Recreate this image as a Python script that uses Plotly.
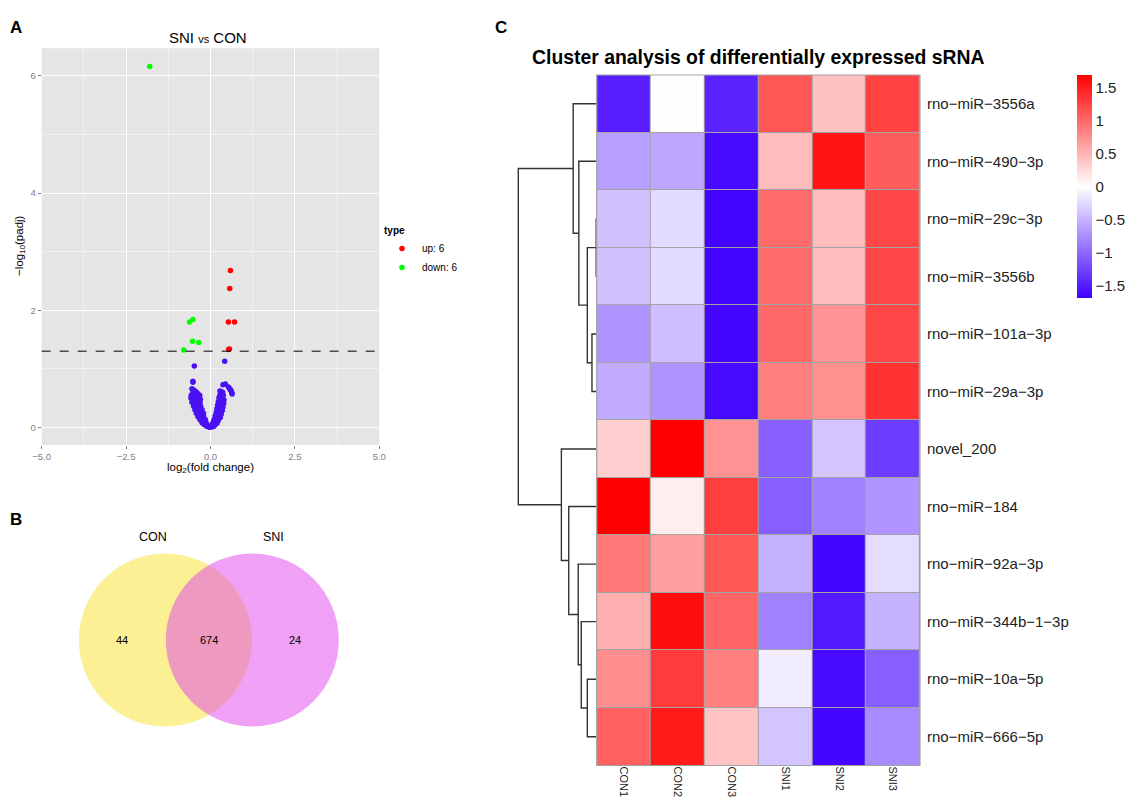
import math
import plotly.graph_objects as go

W, H = 1138, 802
OFF = 8  # page body margin of the browser
FONT = "Liberation Sans, Arial, sans-serif"

# ---------------- Panel A : volcano data ----------------
up_x = [0.59, 0.57, 0.53, 0.71, 0.54, 0.56]
up_y = [2.68, 2.37, 1.80, 1.80, 1.33, 1.34]
down_x = [-1.80, -0.52, -0.62, -0.53, -0.35, -0.79]
down_y = [6.16, 1.84, 1.80, 1.47, 1.45, 1.32]
ns_x = [-0.48, 0.42, -0.52, -0.52, 0.37, 0.44, 0.53, 0.57, 0.61, 0.63, 0.64, 0.59,
        -0.55, -0.50, -0.46, -0.42, -0.38, -0.52, -0.48, -0.44, -0.57, -0.53, -0.49, -0.45, -0.41, -0.36, -0.32,
        -0.58, -0.54, -0.50, -0.46, -0.42, -0.38, -0.34, -0.30,
        -0.55, -0.51, -0.47, -0.43, -0.39, -0.35, -0.31,
        -0.50, -0.46, -0.42, -0.38, -0.34, -0.29,
        -0.46, -0.42, -0.38, -0.34, -0.30, -0.25,
        -0.42, -0.38, -0.34, -0.30, -0.26, -0.21,
        -0.37, -0.33, -0.29, -0.25, -0.20,
        -0.31, -0.27, -0.23, -0.19, -0.15,
        -0.25, -0.21, -0.17, -0.13,
        -0.18, -0.14, -0.10, -0.07,
        -0.11, -0.08, -0.05, -0.03, -0.01,
        0.28, 0.32, 0.36, 0.30, 0.34, 0.38, 0.27,
        0.25, 0.29, 0.33, 0.37, 0.40,
        0.23, 0.27, 0.31, 0.35, 0.39,
        0.21, 0.25, 0.29, 0.33, 0.37,
        0.19, 0.23, 0.27, 0.31, 0.35,
        0.17, 0.21, 0.25, 0.29, 0.32,
        0.14, 0.18, 0.22, 0.26, 0.29,
        0.11, 0.15, 0.19, 0.23,
        0.08, 0.12, 0.16, 0.19,
        0.05, 0.09, 0.13,
        0.03, 0.06, 0.09, 0.01]
ns_y = [1.05, 1.13, 0.79, 0.77, 0.73, 0.74, 0.69, 0.66, 0.63, 0.59, 0.57, 0.64,
        0.66, 0.64, 0.62, 0.60, 0.58, 0.60, 0.58, 0.56, 0.55, 0.54, 0.52, 0.51, 0.52, 0.53, 0.55,
        0.50, 0.48, 0.47, 0.46, 0.45, 0.46, 0.47, 0.48,
        0.43, 0.41, 0.40, 0.39, 0.40, 0.41, 0.42,
        0.36, 0.34, 0.33, 0.34, 0.35, 0.36,
        0.30, 0.28, 0.27, 0.28, 0.29, 0.30,
        0.24, 0.22, 0.21, 0.22, 0.23, 0.24,
        0.18, 0.17, 0.16, 0.17, 0.18,
        0.13, 0.12, 0.11, 0.12, 0.13,
        0.08, 0.07, 0.07, 0.08,
        0.045, 0.04, 0.035, 0.03,
        0.02, 0.015, 0.01, 0.006, 0.002,
        0.62, 0.61, 0.60, 0.57, 0.56, 0.55, 0.54,
        0.50, 0.50, 0.49, 0.48, 0.47,
        0.44, 0.43, 0.43, 0.42, 0.41,
        0.38, 0.37, 0.37, 0.36, 0.35,
        0.32, 0.31, 0.31, 0.30, 0.29,
        0.26, 0.25, 0.25, 0.24, 0.23,
        0.20, 0.19, 0.19, 0.18, 0.17,
        0.14, 0.13, 0.13, 0.12,
        0.09, 0.08, 0.08, 0.07,
        0.05, 0.045, 0.04,
        0.02, 0.02, 0.015, 0.005]
padj_cut = 0.05
x_ticks = [-5.0, -2.5, 0.0, 2.5, 5.0]
y_ticks = [0, 2, 4, 6]

# ---------------- Panel B : Venn data ----------------
venn_sets = ["CON", "SNI"]
venn_counts = [44, 674, 24]  # CON only, both, SNI only

# ---------------- Panel C : heatmap data ----------------
samples = ["CON1", "CON2", "CON3", "SNI1", "SNI2", "SNI3"]
mirnas = ["rno-miR-3556a", "rno-miR-490-3p", "rno-miR-29c-3p", "rno-miR-3556b",
          "rno-miR-101a-3p", "rno-miR-29a-3p", "novel_200", "rno-miR-184",
          "rno-miR-92a-3p", "rno-miR-344b-1-3p", "rno-miR-10a-5p", "rno-miR-666-5p"]
zscore = [
    [-1.48, 0.00, -1.45, 1.12, 0.42, 1.25],
    [-0.63, -0.58, -1.62, 0.45, 1.55, 1.08],
    [-0.40, -0.24, -1.66, 0.98, 0.44, 1.22],
    [-0.40, -0.24, -1.66, 0.98, 0.44, 1.22],
    [-0.70, -0.43, -1.64, 1.00, 0.72, 1.22],
    [-0.55, -0.70, -1.62, 0.86, 0.74, 1.35],
    [0.33, 1.69, 0.72, -1.05, -0.38, -1.28],
    [1.69, 0.12, 1.28, -1.05, -0.83, -0.70],
    [0.90, 0.64, 1.12, -0.50, -1.64, -0.22],
    [0.52, 1.60, 1.02, -0.83, -1.52, -0.50],
    [0.76, 1.30, 0.86, -0.12, -1.62, -1.05],
    [1.05, 1.52, 0.40, -0.38, -1.64, -0.76],
]
# row dendrogram (leaf index = row position; new nodes numbered from 12)
link_a = [2, 4, 12, 1, 0, 10, 9, 8, 7, 6, 16]
link_b = [3, 5, 13, 14, 15, 11, 17, 18, 19, 20, 21]
link_h = [0.05, 0.47, 0.93, 1.77, 2.33, 0.93, 1.53, 1.83, 2.77, 3.50, 7.77]
cbar_ticks = [-1.5, -1, -0.5, 0, 0.5, 1, 1.5]
z_min, z_max = -1.68, 1.69


def fx(px):
    return (px - OFF) / W


def fy(py):
    return 1 - (py - OFF) / H


def minus(s):
    return s.replace("-", "\u2212")


fig = go.Figure()

# ---- volcano traces
blue = "#4A12F2"
fig.add_trace(go.Scatter(x=ns_x, y=ns_y, mode="markers", marker=dict(color=blue, size=5.5),
                         showlegend=False, xaxis="x", yaxis="y", hoverinfo="skip"))
fig.add_trace(go.Scatter(x=up_x, y=up_y, mode="markers", marker=dict(color="#FF0000", size=5.5),
                         name="up: %d" % len(up_x), xaxis="x", yaxis="y"))
fig.add_trace(go.Scatter(x=down_x, y=down_y, mode="markers", marker=dict(color="#00FF00", size=5.5),
                         name="down: %d" % len(down_x), xaxis="x", yaxis="y"))

# ---- heatmap
fig.add_trace(go.Heatmap(
    z=zscore, x=list(range(len(samples))), y=list(range(len(mirnas))),
    xaxis="x3", yaxis="y3", zmin=z_min, zmax=z_max, xgap=1, ygap=1,
    colorscale=[[0, "#4000FF"], [0.5, "#FFFFFF"], [1, "#FF0000"]],
    colorbar=dict(x=fx(1077), xanchor="left", y=fy(75), yanchor="top",
                  len=(298 - 75) / H, lenmode="fraction", thickness=15,
                  outlinewidth=0, xpad=0, ypad=0, ticks="",
                  tickvals=cbar_ticks, ticktext=[minus("%g" % v) for v in cbar_ticks],
                  tickfont=dict(size=15, color="#222222", family=FONT)),
    showscale=True, hoverinfo="skip"))

# ---- dendrogram computed from linkage
n_leaf = len(mirnas)
pos = {i: float(i) for i in range(n_leaf)}
hgt = {i: 0.0 for i in range(n_leaf)}
dx, dy = [], []
for k, (a, b, h) in enumerate(zip(link_a, link_b, link_h)):
    node = n_leaf + k
    dx += [hgt[a], h, h, hgt[b], None]
    dy += [pos[a], pos[a], pos[b], pos[b], None]
    pos[node] = (pos[a] + pos[b]) / 2
    hgt[node] = h
fig.add_trace(go.Scatter(x=dx, y=dy, mode="lines", line=dict(color="#333333", width=1.4),
                         xaxis="x4", yaxis="y4", showlegend=False, hoverinfo="skip"))

root_h = max(link_h)
dend_left_px, root_px, leaf_px = 508, 518.3, 596.7
dend_range_max = root_h * (leaf_px - dend_left_px) / (leaf_px - root_px)

axis_common = dict(showline=False, zeroline=False, automargin=False)

fig.update_layout(
    width=W, height=H, autosize=False,
    margin=dict(l=0, r=0, t=0, b=0, autoexpand=False),
    paper_bgcolor="white", plot_bgcolor="white",
    font=dict(family=FONT, color="#000000"),
    showlegend=True,
    legend=dict(x=fx(382), y=fy(221), xanchor="left", yanchor="top",
                title=dict(text="<b>type</b>", font=dict(size=10)),
                font=dict(size=10), bgcolor="rgba(0,0,0,0)",
                tracegroupgap=0),
    xaxis=dict(domain=[fx(41.7), fx(379.3)], range=[-5, 5], anchor="y",
               tickvals=x_ticks, ticktext=[minus("%.1f" % v) for v in x_ticks],
               tickfont=dict(size=9.5, color="#7F7F7F"),
               ticks="outside", ticklen=3, tickcolor="#7F7F7F",
               showgrid=True, gridcolor="#FFFFFF", gridwidth=1.2,
               minor=dict(tickvals=[-3.75, -1.25, 1.25, 3.75], showgrid=True,
                          gridcolor="#F2F2F2", gridwidth=0.6, ticks=""),
               **axis_common),
    yaxis=dict(domain=[fy(445), fy(48.3)], range=[-0.30, 6.47], anchor="x",
               tickvals=y_ticks, ticktext=[str(v) for v in y_ticks],
               tickfont=dict(size=9.5, color="#7F7F7F"),
               ticks="outside", ticklen=3, tickcolor="#7F7F7F",
               showgrid=True, gridcolor="#FFFFFF", gridwidth=1.2,
               minor=dict(tickvals=[1, 3, 5], showgrid=True,
                          gridcolor="#F2F2F2", gridwidth=0.6, ticks=""),
               **axis_common),
    xaxis2=dict(domain=[0, 420 / W], range=[OFF, 420 + OFF], anchor="y2", visible=False),
    yaxis2=dict(domain=[fy(760), fy(520)], range=[760, 520], anchor="x2", visible=False),
    xaxis3=dict(domain=[fx(596.7), fx(920)], range=[-0.5, 5.5], anchor="y3",
                tickvals=list(range(len(samples))), ticktext=samples, tickangle=90,
                tickfont=dict(size=11, color="#222222"), ticks="", showgrid=False,
                **axis_common),
    yaxis3=dict(domain=[fy(765.5), fy(75)], range=[len(mirnas) - 0.5, -0.5], anchor="x3",
                side="right", tickvals=list(range(len(mirnas))),
                ticktext=[minus(m) for m in mirnas], ticks="",
                ticklabelstandoff=6,
                tickfont=dict(size=15, color="#222222"), showgrid=False, **axis_common),
    xaxis4=dict(domain=[fx(dend_left_px), fx(leaf_px)], range=[dend_range_max, 0], anchor="y4",
                visible=False),
    yaxis4=dict(domain=[fy(765.5), fy(75)], range=[len(mirnas) - 0.5, -0.5], anchor="x4",
                visible=False),
)

thr = -math.log10(padj_cut)
shapes = [
    # ggplot grey panel background
    dict(type="rect", xref="x domain", yref="y domain", x0=0, x1=1, y0=0, y1=1,
         fillcolor="#E5E5E5", line=dict(width=0), layer="below"),
    # significance threshold
    dict(type="line", xref="x domain", yref="y", x0=0, x1=1, y0=thr, y1=thr,
         line=dict(color="#000000", width=1, dash="dash")),
    # heatmap cell borders
    dict(type="rect", xref="x3 domain", yref="y3 domain", x0=0, x1=1, y0=0, y1=1,
         fillcolor="#A3A3A3", line=dict(width=0), layer="below"),
    dict(type="rect", xref="x3 domain", yref="y3 domain", x0=0, x1=1, y0=0, y1=1,
         fillcolor="rgba(0,0,0,0)", line=dict(width=1.2, color="#A3A3A3"), layer="above"),
]

# Venn circles (layout geometry in pixel units of axis 2)
vc_y, vr = 640, 86.5
vc_left, vc_right = 165.3, 252.3
shapes.append(dict(type="circle", xref="x2", yref="y2", x0=vc_left - vr, x1=vc_left + vr,
                   y0=vc_y - vr, y1=vc_y + vr, fillcolor="rgba(247,226,42,0.5)", line=dict(width=0)))
shapes.append(dict(type="circle", xref="x2", yref="y2", x0=vc_right - vr, x1=vc_right + vr,
                   y0=vc_y - vr, y1=vc_y + vr, fillcolor="rgba(225,65,235,0.5)", line=dict(width=0)))
fig.update_layout(shapes=shapes)

ann = []
# panel letters
for letter, px, py in [("A", 16, 27), ("B", 16, 519), ("C", 501, 27)]:
    ann.append(dict(text="<b>%s</b>" % letter, x=fx(px), y=fy(py), xref="paper", yref="paper",
                    xanchor="center", yanchor="middle", showarrow=False, font=dict(size=17)))
# volcano texts
ann.append(dict(text="SNI <span style='font-size:11px'>vs</span> CON", x=fx(208), y=fy(37),
                xref="paper", yref="paper", showarrow=False, font=dict(size=15),
                xanchor="center", yanchor="middle"))
ann.append(dict(text="\u2212log<sub>10</sub>(padj)", x=fx(20), y=fy(246), xref="paper", yref="paper",
                showarrow=False, textangle=-90, font=dict(size=11.5), xanchor="center", yanchor="middle"))
ann.append(dict(text="log<sub>2</sub>(fold change)", x=fx(210), y=fy(468), xref="paper", yref="paper",
                showarrow=False, font=dict(size=11.5), xanchor="center", yanchor="middle"))
# venn texts
ann.append(dict(text=venn_sets[0], x=153, y=537, xref="x2", yref="y2", showarrow=False,
                font=dict(size=12.5), xanchor="center", yanchor="middle"))
ann.append(dict(text=venn_sets[1], x=273, y=537, xref="x2", yref="y2", showarrow=False,
                font=dict(size=12.5), xanchor="center", yanchor="middle"))
for cnt, cx in zip(venn_counts, [122, 208.5, 295]):
    ann.append(dict(text=str(cnt), x=cx, y=vc_y, xref="x2", yref="y2", showarrow=False,
                    font=dict(size=11), xanchor="center", yanchor="middle"))
# heatmap title
ann.append(dict(text="<b>Cluster analysis of differentially expressed sRNA</b>", x=fx(758), y=fy(57),
                xref="paper", yref="paper", showarrow=False, font=dict(size=19.4),
                xanchor="center", yanchor="middle"))
fig.update_layout(annotations=ann)

fig.write_html("out.html")
